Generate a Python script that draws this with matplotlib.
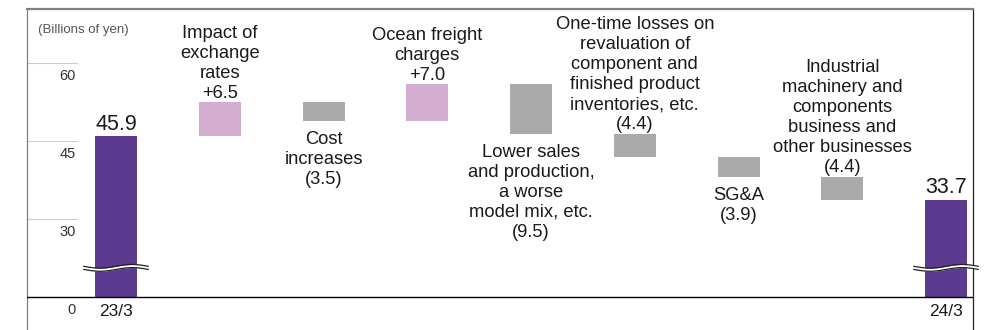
import numpy as np
import matplotlib.pyplot as plt

plt.rcParams['font.family'] = ['Liberation Sans', 'DejaVu Sans']

# Operating income bridge (billions of yen)
start_label, end_label = "23/3", "24/3"
start_value = 45.9
end_value = 33.7
step_labels = [
    "Impact of\nexchange\nrates",
    "Cost\nincreases",
    "Ocean freight\ncharges",
    "Lower sales\nand production,\na worse\nmodel mix, etc.",
    "One-time losses on\nrevaluation of\ncomponent and\nfinished product\ninventories, etc.",
    "SG&A",
    "Industrial\nmachinery and\ncomponents\nbusiness and\nother businesses",
]
step_deltas = [6.5, -3.5, 7.0, -9.5, -4.4, -3.9, -4.4]
label_below = [False, True, False, True, False, True, False]
tick_values = [0, 30, 45, 60]
unit_label = "(Billions of yen)"

# The value axis is broken between 0 and 30: everything above the break
# is shifted down by 15 so that 30 sits one grid step above zero.
BREAK_SHIFT = 15.0


def to_axis(v):
    return 0.0 if v == 0 else v - BREAK_SHIFT


PURPLE = "#5b3a8f"
PINK = "#d4aed0"
GRAY = "#aaaaaa"
TEXT = "#1a1a1a"

fig = plt.figure(figsize=(9.89, 3.30), dpi=100)
ax = fig.add_axes([27 / 989, 0.0, 946 / 989, (330 - 9) / 330])

n = len(step_deltas) + 2
ax.set_xlim(-0.858, n - 1 + 0.26)
ax.set_ylim(-6.35, 55.38)

bar_w = 0.405

# Start and end totals
for xi, val in [(0, start_value), (n - 1, end_value)]:
    ax.bar(xi, to_axis(val), width=bar_w, bottom=0, color=PURPLE, zorder=2)
    ax.text(xi, to_axis(val) + 0.3, f"{val:.1f}", ha="center", va="bottom",
            fontsize=15.5, color=TEXT)

# Floating step bars
level = start_value
for i, (lab, d, below) in enumerate(zip(step_labels, step_deltas, label_below)):
    xi = i + 1
    lo, hi = min(level, level + d), max(level, level + d)
    ax.bar(xi, hi - lo, width=bar_w, bottom=to_axis(lo),
           color=PINK if d > 0 else GRAY, zorder=2)
    val_txt = f"+{d:.1f}" if d > 0 else f"({abs(d):.1f})"
    txt = lab + "\n" + val_txt
    if below:
        ax.text(xi, to_axis(lo) - 1.9, txt, ha="center", va="top",
                fontsize=13.2, color=TEXT, linespacing=1.24)
    else:
        ax.text(xi, to_axis(hi) + 0.1, txt, ha="center", va="bottom",
                fontsize=13.2, color=TEXT, linespacing=1.24)
    level += d

# Break marks on the two total bars
yb = 5.6
for xi in (0, n - 1):
    xs = np.linspace(xi - 0.31, xi + 0.31, 60)
    wave = 0.35 * np.sin((xs - xi) / 0.31 * np.pi)
    ax.fill_between(xs, yb - 0.3 + wave, yb + 0.3 + wave, color="white",
                    zorder=3, clip_on=False, lw=0)
    ax.plot(xs, yb - 0.3 + wave, color="#222222", lw=0.9, zorder=4, clip_on=False)
    ax.plot(xs, yb + 0.3 + wave, color="#222222", lw=0.9, zorder=4, clip_on=False)

# Baseline
ax.axhline(0, color="black", lw=1.0, zorder=5)

# Short grid stubs and value labels on the left
ytr = ax.get_yaxis_transform()
for t in tick_values:
    if t != 0:
        ax.plot([0, 50 / 946], [to_axis(t)] * 2, color="#cccccc", lw=0.8,
                transform=ytr, clip_on=False)
        ax.text(49 / 946, to_axis(t) - 2.5, str(t), ha="right", va="center",
                fontsize=10.5, color="#333333", transform=ytr)
    else:
        ax.text(49 / 946, -2.6, str(t), ha="right", va="center",
                fontsize=10.5, color="#333333", transform=ytr)

# Category labels under the totals
for xi, lab in [(0, start_label), (n - 1, end_label)]:
    ax.text(xi, -2.7, lab, ha="center", va="center", fontsize=12.5, color=TEXT)

ax.text(11 / 946, 51.4, unit_label, ha="left", va="center",
        fontsize=9.5, color="#555555", transform=ytr)

ax.set_xticks([])
ax.set_yticks([])
ax.spines["bottom"].set_visible(False)
ax.spines["top"].set_color("#808080")
ax.spines["top"].set_linewidth(1.6)
ax.spines["left"].set_color("#808080")
ax.spines["left"].set_linewidth(0.9)
ax.spines["right"].set_color("#222222")
ax.spines["right"].set_linewidth(0.9)

fig.savefig("out.png", dpi=100)
